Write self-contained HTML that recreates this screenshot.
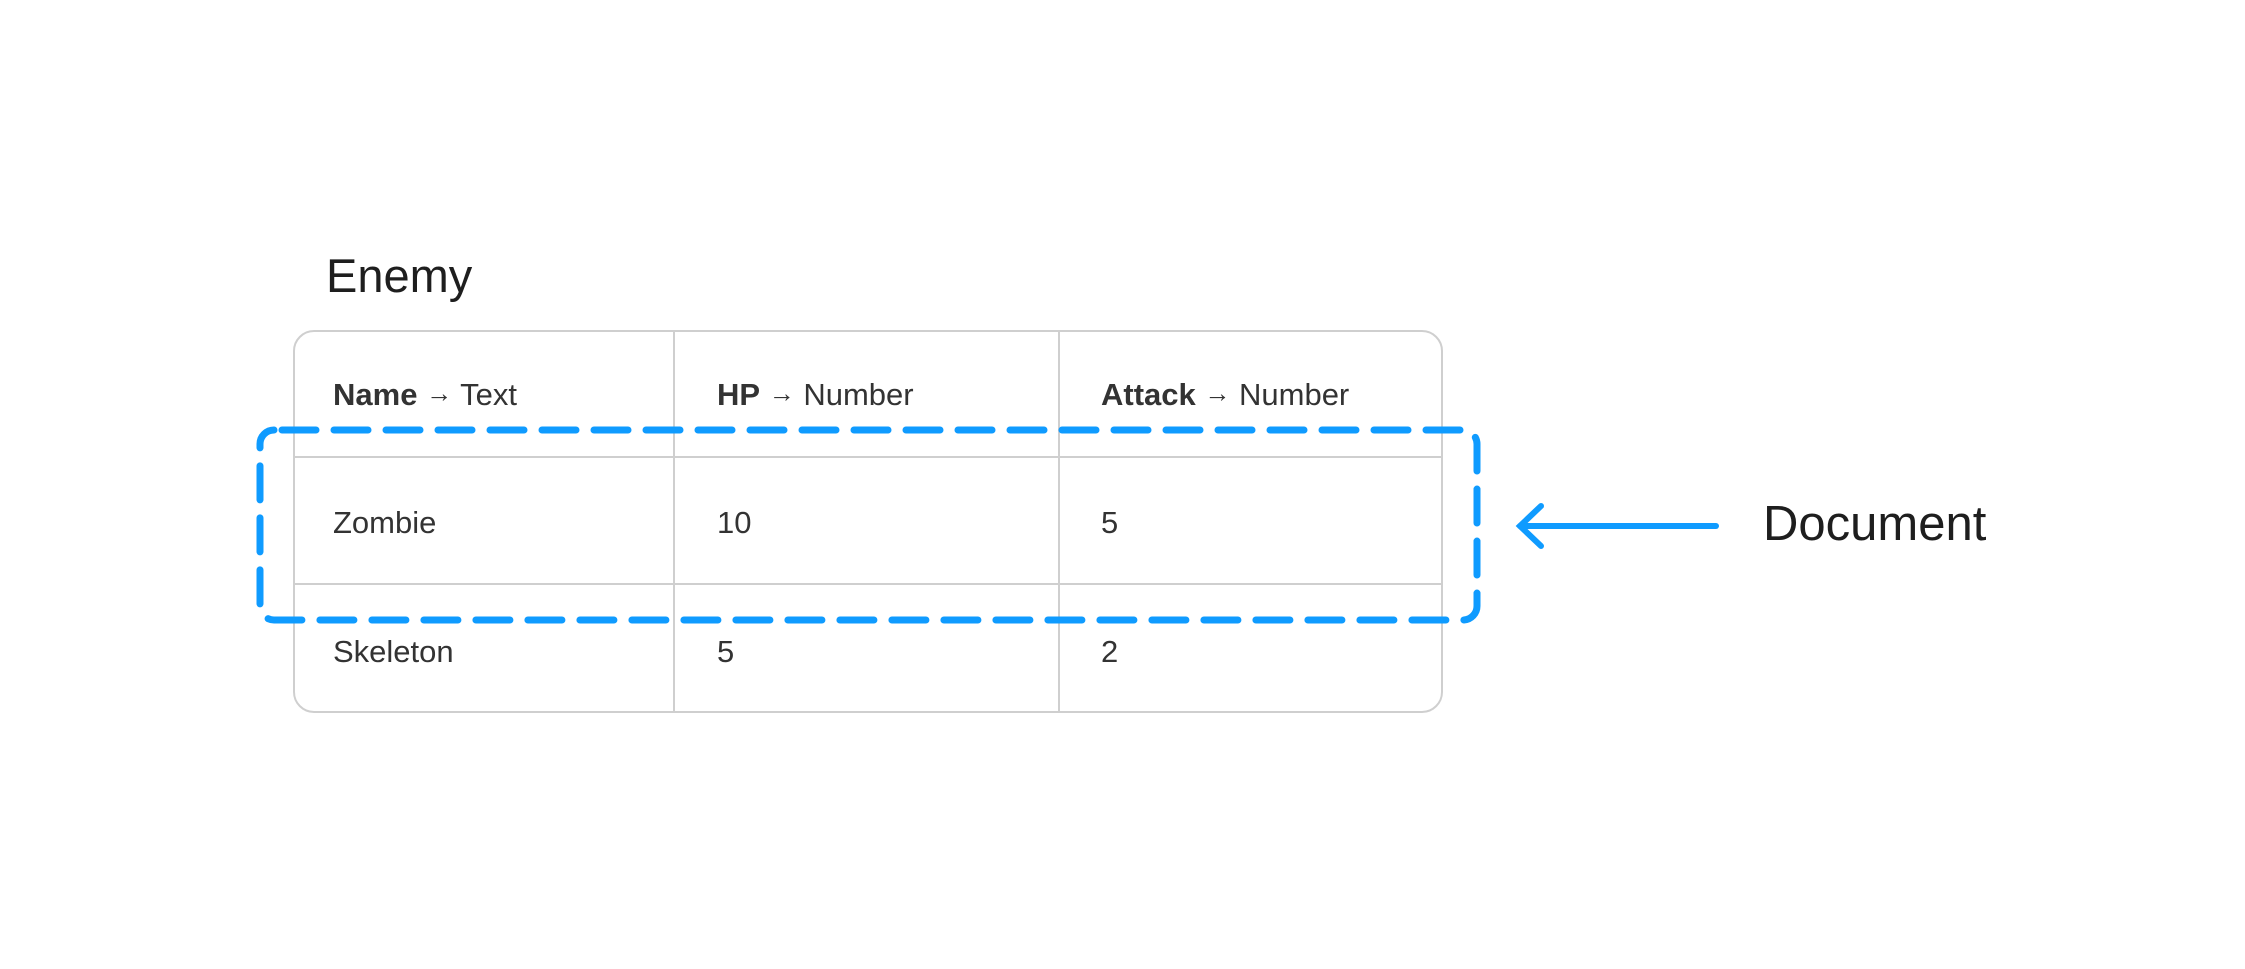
<!DOCTYPE html>
<html><head><meta charset="utf-8"><style>
html,body{margin:0;padding:0;background:#fff;}
body{width:2245px;height:969px;position:relative;overflow:hidden;font-family:"Liberation Sans",sans-serif;}
svg{position:absolute;left:0;top:0;}
</style></head><body>
<svg width="2245" height="969" viewBox="0 0 2245 969">
<rect x="294" y="331" width="1148" height="381" rx="20" fill="#fff" stroke="#cfcfcf" stroke-width="2"/>
<line x1="674" y1="331" x2="674" y2="712" stroke="#cfcfcf" stroke-width="2"/>
<line x1="1059" y1="331" x2="1059" y2="712" stroke="#cfcfcf" stroke-width="2"/>
<line x1="294" y1="457" x2="1442" y2="457" stroke="#cfcfcf" stroke-width="2"/>
<line x1="294" y1="584" x2="1442" y2="584" stroke="#cfcfcf" stroke-width="2"/>
<text x="326" y="292" font-size="47" fill="#1e1e1e">Enemy</text>
<g font-size="31" fill="#333">
<text x="333" y="405"><tspan font-weight="bold">Name</tspan> <tspan font-size="26" dy="-3">→</tspan><tspan dy="3"> Text</tspan></text>
<text x="717" y="405"><tspan font-weight="bold">HP</tspan> <tspan font-size="26" dy="-3">→</tspan><tspan dy="3"> Number</tspan></text>
<text x="1101" y="405"><tspan font-weight="bold">Attack</tspan> <tspan font-size="26" dy="-3">→</tspan><tspan dy="3"> Number</tspan></text>
<text x="333" y="533">Zombie</text>
<text x="717" y="533">10</text>
<text x="1101" y="533">5</text>
<text x="333" y="662">Skeleton</text>
<text x="717" y="662">5</text>
<text x="1101" y="662">2</text>
</g>
<rect x="260" y="430" width="1217" height="190" rx="14" fill="none" stroke="#0f9bff" stroke-width="7" stroke-dasharray="34 18" stroke-dashoffset="-8" stroke-linecap="round"/>
<g stroke="#0f9bff" stroke-width="6" stroke-linecap="round" fill="none">
<line x1="1520" y1="526" x2="1716" y2="526"/>
<polyline points="1541,506 1520,526 1541,546"/>
</g>
<text x="1763" y="540" font-size="49" fill="#1e1e1e">Document</text>
</svg>
</body></html>
